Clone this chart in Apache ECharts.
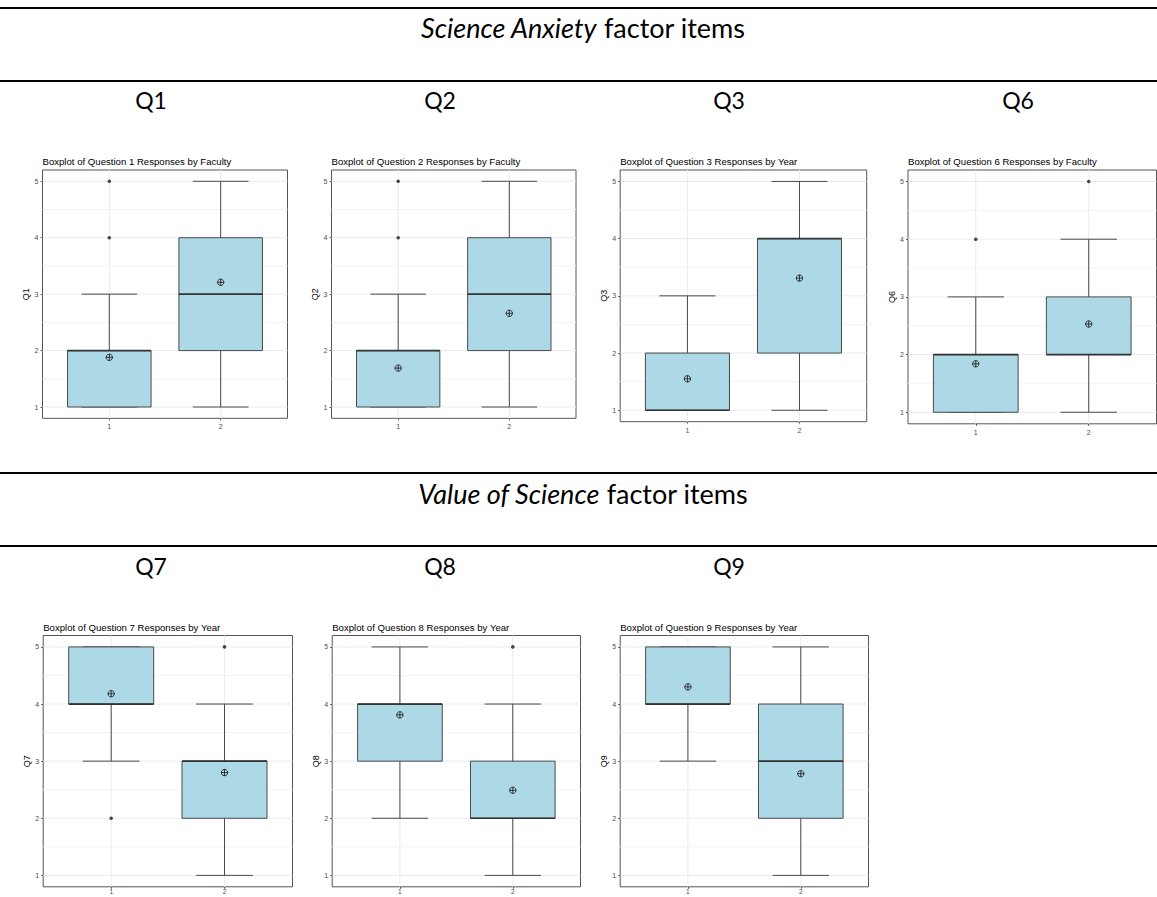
<!DOCTYPE html>
<html><head><meta charset="utf-8">
<script src="https://cdn.jsdelivr.net/npm/echarts@6/dist/echarts.min.js"></script>
<style>html,body{margin:0;padding:0;background:#fff}#c{width:1157px;height:897px}</style>
</head><body><div id="c"></div>
<script>
// ---------- data ----------
const categories = [1, 2];
const yTicks = [1, 2, 3, 4, 5];
const yMinorTicks = [1.5, 2.5, 3.5, 4.5];

// [lower whisker, Q1, median, Q3, upper whisker] per category
const q1Stats = [[1, 1, 2, 2, 3], [1, 2, 3, 4, 5]];
const q1Outliers = [[1, 4], [1, 5]];
const q1Means = [1.88, 3.21];

const q2Stats = [[1, 1, 2, 2, 3], [1, 2, 3, 4, 5]];
const q2Outliers = [[1, 4], [1, 5]];
const q2Means = [1.69, 2.66];

const q3Stats = [[1, 1, 1, 2, 3], [1, 2, 4, 4, 5]];
const q3Outliers = [];
const q3Means = [1.55, 3.31];

const q6Stats = [[1, 1, 2, 2, 3], [1, 2, 2, 3, 4]];
const q6Outliers = [[1, 4], [2, 5]];
const q6Means = [1.84, 2.53];

const q7Stats = [[3, 4, 4, 5, 5], [1, 2, 3, 3, 4]];
const q7Outliers = [[1, 2], [2, 5]];
const q7Means = [4.18, 2.80];

const q8Stats = [[2, 3, 4, 4, 5], [1, 2, 2, 3, 4]];
const q8Outliers = [[2, 5]];
const q8Means = [3.81, 2.49];

const q9Stats = [[3, 4, 4, 5, 5], [1, 2, 3, 4, 5]];
const q9Outliers = [];
const q9Means = [4.30, 2.78];

const sectionTitles = [
  ['Science Anxiety', ' factor items'],
  ['Value of Science', ' factor items']
];
const questionLabels = [['Q1', 'Q2', 'Q3', 'Q6'], ['Q7', 'Q8', 'Q9']];
const plotTitles = [
  'Boxplot of Question 1 Responses by Faculty',
  'Boxplot of Question 2 Responses by Faculty',
  'Boxplot of Question 3 Responses by Year',
  'Boxplot of Question 6 Responses by Faculty',
  'Boxplot of Question 7 Responses by Year',
  'Boxplot of Question 8 Responses by Year',
  'Boxplot of Question 9 Responses by Year'
];
const axisNames = ['Q1', 'Q2', 'Q3', 'Q6', 'Q7', 'Q8', 'Q9'];
const panelData = [
  [q1Stats, q1Outliers, q1Means],
  [q2Stats, q2Outliers, q2Means],
  [q3Stats, q3Outliers, q3Means],
  [q6Stats, q6Outliers, q6Means],
  [q7Stats, q7Outliers, q7Means],
  [q8Stats, q8Outliers, q8Means],
  [q9Stats, q9Outliers, q9Means]
];

// ---------- layout (pixels) ----------
// [left, top, width, height, x-label margin, x-label font size]
const panelRects = [
  [42.5, 170, 245, 248.3, 5, 7],
  [331.5, 170, 244.5, 248.3, 5, 7],
  [620.2, 170, 246.5, 251.7, 5, 7],
  [908, 170, 248.5, 253.8, 5, 7],
  [43.2, 635.5, 249.3, 251.3, 1.5, 6.5],
  [332.2, 635.5, 248.3, 251.3, 1.5, 6.5],
  [620.2, 635.5, 248.3, 251.3, 1.5, 6.5]
];
const sectionLayout = [
  {line1: 8, text: 27, line2: 81, labels: 100},
  {line1: 473, text: 493, line2: 546, labels: 566}
];
const labelCenters = [151, 440, 729, 1018];

const FONT = 'Liberation Sans, Arial, sans-serif';
const HFONT = 'Lato, "Open Sans", sans-serif';
const BOX_FILL = '#ADD8E6';
const LINE_COL = '#4a4a4a';

const option = {
  animation: false,
  backgroundColor: '#fff',
  title: [], grid: [], xAxis: [], yAxis: [], series: [], graphic: []
};

panelRects.forEach(function (r, i) {
  option.grid.push({
    left: r[0], top: r[1], width: r[2], height: r[3],
    outerBoundsMode: 'none', containLabel: false,
    show: true, borderColor: '#555', borderWidth: 1, backgroundColor: '#fff'
  });
  option.title.push({
    text: plotTitles[i], left: r[0], top: r[1] - 13.5, padding: 0,
    textStyle: {fontFamily: FONT, fontSize: 9.6, fontWeight: 'normal', color: '#000'}
  });
  option.xAxis.push({
    gridIndex: i, type: 'value', min: 0.4, max: 2.6,
    axisLine: {show: false},
    axisTick: {show: true, length: 2, customValues: categories, lineStyle: {color: '#333', width: 0.8}},
    axisLabel: {customValues: categories, color: '#4d4d4d', fontSize: r[5], margin: r[4], fontFamily: FONT},
    splitLine: {show: false}
  });
  option.yAxis.push({
    gridIndex: i, type: 'value', min: 0.8, max: 5.2,
    name: axisNames[i], nameLocation: 'middle', nameRotate: 90, nameGap: 7,
    nameTextStyle: {fontFamily: FONT, fontSize: 9, color: '#000'},
    axisLine: {show: false},
    axisTick: {show: true, length: 2, customValues: yTicks, lineStyle: {color: '#333', width: 0.8}},
    axisLabel: {customValues: yTicks, color: '#4d4d4d', fontSize: 7, margin: 4, fontFamily: FONT},
    splitLine: {show: false}
  });

  const d = panelData[i];
  // grid lines series: [value, kind] kind 0 = major horizontal, 1 = minor horizontal, 2 = vertical
  const gridLines = yTicks.map(v => [v, 0])
    .concat(yMinorTicks.map(v => [v, 1]))
    .concat(categories.map(v => [v, 2]));
  option.series.push({
    type: 'custom', xAxisIndex: i, yAxisIndex: i, z: 1, silent: true,
    data: gridLines,
    encode: {x: -1, y: -1},
    renderItem: function (params, api) {
      const v = api.value(0), kind = api.value(1);
      const cs = params.coordSys;
      if (kind === 2) {
        const px = api.coord([v, 3])[0];
        return {type: 'line', shape: {x1: px, y1: cs.y, x2: px, y2: cs.y + cs.height},
          style: {stroke: '#ebebeb', lineWidth: 1}};
      }
      const py = api.coord([1.5, v])[1];
      return {type: 'line', shape: {x1: cs.x, y1: py, x2: cs.x + cs.width, y2: py},
        style: {stroke: kind === 0 ? '#ebebeb' : '#f4f4f4', lineWidth: 1}};
    }
  });
  // boxes
  option.series.push({
    type: 'custom', xAxisIndex: i, yAxisIndex: i, z: 2, silent: true,
    data: d[0].map((s, k) => [categories[k]].concat(s)),
    encode: {x: 0, y: [1, 2, 3, 4, 5]},
    renderItem: function (params, api) {
      const x = api.value(0), lo = api.value(1), q1 = api.value(2), med = api.value(3), q3 = api.value(4), hi = api.value(5);
      const c = (a, b) => api.coord([a, b]);
      const half = 0.375, cap = 0.25;
      const pLo = c(x, lo), pHi = c(x, hi);
      const cl0 = c(x - cap, lo), cl1 = c(x + cap, lo), ch0 = c(x - cap, hi), ch1 = c(x + cap, hi);
      const b0 = c(x - half, q3), b1 = c(x + half, q1);
      const m0 = c(x - half, med), m1 = c(x + half, med);
      const ls = {stroke: LINE_COL, lineWidth: 1};
      return {type: 'group', children: [
        {type: 'line', shape: {x1: pLo[0], y1: pLo[1], x2: pHi[0], y2: pHi[1]}, style: ls},
        {type: 'line', shape: {x1: cl0[0], y1: cl0[1], x2: cl1[0], y2: cl1[1]}, style: ls},
        {type: 'line', shape: {x1: ch0[0], y1: ch0[1], x2: ch1[0], y2: ch1[1]}, style: ls},
        {type: 'rect', shape: {x: b0[0], y: b0[1], width: b1[0] - b0[0], height: b1[1] - b0[1]},
          style: {fill: BOX_FILL, stroke: LINE_COL, lineWidth: 1}},
        {type: 'line', shape: {x1: m0[0], y1: m0[1], x2: m1[0], y2: m1[1]}, style: {stroke: '#333', lineWidth: 1.7}}
      ]};
    }
  });
  // outliers
  option.series.push({
    type: 'scatter', xAxisIndex: i, yAxisIndex: i, z: 3, silent: true,
    symbolSize: 3.6, itemStyle: {color: '#1a1a1a'},
    data: d[1]
  });
  // means
  option.series.push({
    type: 'custom', xAxisIndex: i, yAxisIndex: i, z: 4, silent: true,
    data: d[2].map((m, k) => [categories[k], m]),
    encode: {x: 0, y: 1},
    renderItem: function (params, api) {
      const p = api.coord([api.value(0), api.value(1)]);
      const r = 3.2;
      const st = {stroke: '#222', lineWidth: 0.9, fill: null};
      return {type: 'group', children: [
        {type: 'circle', shape: {cx: p[0], cy: p[1], r: r}, style: {stroke: '#222', lineWidth: 0.9, fill: 'none'}},
        {type: 'line', shape: {x1: p[0] - r, y1: p[1], x2: p[0] + r, y2: p[1]}, style: st},
        {type: 'line', shape: {x1: p[0], y1: p[1] - r, x2: p[0], y2: p[1] + r}, style: st}
      ]};
    }
  });
});

sectionLayout.forEach(function (s, k) {
  [s.line1, s.line2].forEach(function (y) {
    option.graphic.push({type: 'line', silent: true,
      shape: {x1: 0, y1: y, x2: 1157, y2: y}, style: {stroke: '#000', lineWidth: 2}});
  });
  option.graphic.push({type: 'text', silent: true, x: 583, y: s.text,
    style: {text: '{i|' + sectionTitles[k][0] + '}' + sectionTitles[k][1],
      rich: {i: {fontStyle: 'italic', fontFamily: HFONT, fontSize: 27, fill: '#000'}},
      fontFamily: HFONT, fontSize: 27, fill: '#000', align: 'center', verticalAlign: 'middle'}});
  questionLabels[k].forEach(function (q, j) {
    option.graphic.push({type: 'text', silent: true, x: labelCenters[j], y: s.labels,
      style: {text: q, fontFamily: HFONT, fontSize: 23, fill: '#000', align: 'center', verticalAlign: 'middle'}});
  });
});

const chart = echarts.init(document.getElementById('c'), null, {renderer: 'svg'});
chart.setOption(option);
</script>
</body></html>
